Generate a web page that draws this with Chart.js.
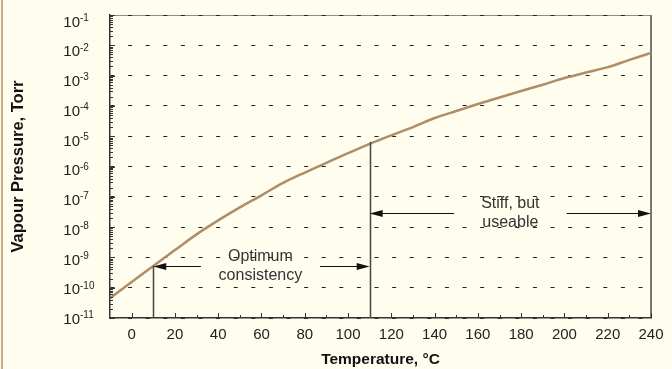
<!DOCTYPE html>
<html>
<head>
<meta charset="utf-8">
<script src="https://cdn.jsdelivr.net/npm/chart.js@4.4.1/dist/chart.umd.min.js"></script>
<style>
  html, body { margin: 0; padding: 0; background: #fffdee; }
  #wrap { width: 672px; height: 369px; }
</style>
</head>
<body>
<div id="wrap"><canvas id="vapourChart" width="672" height="369"></canvas></div>
<script>
// curve, every 10 degC
const temperatures = [-10, 0, 10, 20, 30, 40, 50, 60, 70, 80, 90, 100, 110, 120,
  130, 140, 150, 160, 170, 180, 190, 200, 210, 220, 230, 240];
const vapourPressure = [4.5e-11, 1.55e-10, 5.25e-10, 1.74e-9, 5.75e-9, 1.66e-8, 4.47e-8,
  1.12e-7, 2.88e-7, 6.3e-7, 1.32e-6, 2.75e-6, 5.6e-6, 1.07e-5, 2.0e-5, 3.98e-5, 6.8e-5,
  1.15e-4, 1.9e-4, 3.1e-4, 5.0e-4, 8.3e-4, 1.26e-3, 1.9e-3, 3.3e-3, 5.6e-3];

const tempTicks = [0, 20, 40, 60, 80, 100, 120, 140, 160, 180, 200, 220, 240];
const pressureExponents = [-1, -2, -3, -4, -5, -6, -7, -8, -9, -10, -11];

// range markers: vertical lines and the two labelled arrow pairs
const markerTemps = [10, 110];
const markerTops = [5.25e-10, 6.5e-6];
const rangeLabels = [['Optimum', 'consistency'], ['Stiff, but', 'useable']];
const rangeLabelTemps = [59.5, 175];
const rangeLevels = [5.25e-10, 2.95e-8];
const rangeArrows = [
  [[32, 10], [87, 110]],
  [[149, 110], [201, 240]]
];

const FONT = 'Liberation Sans, Arial, sans-serif';

const decor = {
  id: 'decor',
  beforeDraw(chart) {
    const { ctx, chartArea: a } = chart;
    ctx.save();
    ctx.fillStyle = '#fffdee';
    ctx.fillRect(0, 0, chart.width, chart.height);
    // tan stripe on the left edge
    ctx.fillStyle = '#c9ab84';
    ctx.fillRect(1, 0, 2, chart.height);
    // frame top and right
    ctx.strokeStyle = '#8c8c8c';
    ctx.lineWidth = 1;
    ctx.beginPath();
    ctx.moveTo(a.left, a.top + 0.5);
    ctx.lineTo(a.right, a.top + 0.5);
    ctx.stroke();
    ctx.strokeStyle = '#777';
    ctx.lineWidth = 2;
    ctx.beginPath();
    ctx.moveTo(a.right, a.top);
    ctx.lineTo(a.right, a.bottom);
    ctx.stroke();
    ctx.restore();
  },
  afterDraw(chart) {
    const { ctx, chartArea: a } = chart;
    const xs = chart.scales.x, ys = chart.scales.y;
    ctx.save();

    // inner tick marks
    ctx.strokeStyle = '#333';
    ctx.lineWidth = 1;
    ctx.beginPath();
    tempTicks.forEach((t, i) => {
      const px = Math.round(xs.getPixelForValue(t)) + 0.5;
      ctx.moveTo(px, a.bottom);
      ctx.lineTo(px, a.bottom - 5);
      if (i < tempTicks.length - 1) {
        const mx = Math.round(xs.getPixelForValue(t + 10)) + 0.5;
        ctx.moveTo(mx, a.bottom);
        ctx.lineTo(mx, a.bottom - 3);
      }
    });
    pressureExponents.forEach(e => {
      const py = Math.round(ys.getPixelForValue(Math.pow(10, e))) + 0.5;
      ctx.moveTo(a.left, py);
      ctx.lineTo(a.left + 5, py);
    });
    pressureExponents.slice(1).forEach(e => {
      for (let m = 2; m <= 9; m++) {
        const py = Math.round(ys.getPixelForValue(m * Math.pow(10, e))) + 0.5;
        ctx.moveTo(a.left, py);
        ctx.lineTo(a.left + 3, py);
      }
    });
    ctx.stroke();

    // y tick labels with superscript exponents
    ctx.fillStyle = '#222';
    pressureExponents.forEach((e, i) => {
      const py = ys.getPixelForValue(Math.pow(10, e)) + 7.5 - 0.55 * i;
      ctx.font = '15px ' + FONT;
      ctx.textAlign = 'right';
      ctx.textBaseline = 'middle';
      ctx.fillText('10', 80, py);
      ctx.font = '10px ' + FONT;
      ctx.textAlign = 'left';
      ctx.fillText(String(e), 80, py - 4.5);
    });

    // vertical markers
    ctx.strokeStyle = '#444';
    ctx.lineWidth = 1.5;
    markerTemps.forEach((t, i) => {
      const px = Math.round(xs.getPixelForValue(t)) + 0.5;
      ctx.beginPath();
      ctx.moveTo(px, a.bottom);
      ctx.lineTo(px, ys.getPixelForValue(markerTops[i]));
      ctx.stroke();
    });

    // arrows
    ctx.strokeStyle = '#111';
    ctx.fillStyle = '#111';
    ctx.lineWidth = 1.2;
    rangeArrows.forEach((pair, i) => {
      const py = Math.round(ys.getPixelForValue(rangeLevels[i])) + 0.5;
      pair.forEach(([from, to]) => {
        const x0 = xs.getPixelForValue(from), x1 = xs.getPixelForValue(to);
        const dir = Math.sign(x1 - x0);
        ctx.beginPath();
        ctx.moveTo(x0, py);
        ctx.lineTo(x1 - dir * 10, py);
        ctx.stroke();
        ctx.beginPath();
        ctx.moveTo(x1, py);
        ctx.lineTo(x1 - dir * 13, py - 3.5);
        ctx.lineTo(x1 - dir * 13, py + 3.5);
        ctx.closePath();
        ctx.fill();
      });
    });

    // range labels
    ctx.fillStyle = '#333';
    ctx.font = '16px ' + FONT;
    ctx.textAlign = 'center';
    ctx.textBaseline = 'middle';
    rangeLabels.forEach((lines, i) => {
      const px = xs.getPixelForValue(rangeLabelTemps[i]);
      const py = ys.getPixelForValue(rangeLevels[i]);
      ctx.fillText(lines[0], px, py - 9.5);
      ctx.fillText(lines[1], px, py + 9.5);
    });

    ctx.restore();
  }
};

const ctx = document.getElementById('vapourChart').getContext('2d');
const chart = new Chart(ctx, {
  type: 'line',
  data: {
    datasets: [{
      label: 'Vapour pressure',
      data: temperatures.map((t, i) => ({ x: t, y: vapourPressure[i] })),
      borderColor: '#ae8e68',
      borderWidth: 2.5,
      pointRadius: 0,
      cubicInterpolationMode: 'monotone',
      fill: false
    }]
  },
  options: {
    responsive: false,
    animation: false,
    devicePixelRatio: 1,
    layout: { padding: { top: 15, right: 21, left: 0, bottom: 0 } },
    plugins: { legend: { display: false }, tooltip: { enabled: false } },
    scales: {
      x: {
        type: 'linear',
        min: -10,
        max: 240,
        afterBuildTicks: s => { s.ticks = tempTicks.map(v => ({ value: v })); },
        afterFit: s => { s.height = 51; },
        grid: { display: false, drawTicks: false },
        border: { display: true, color: '#333', width: 1.5 },
        ticks: {
          color: '#222', font: { family: FONT, size: 15 }, padding: 8,
          maxRotation: 0, autoSkip: false
        },
        title: {
          display: true, text: 'Temperature, °C', color: '#111',
          font: { family: FONT, size: 15.5, weight: 'bold' },
          padding: { top: 0, bottom: 0 }
        }
      },
      y: {
        type: 'logarithmic',
        min: 1e-11,
        max: 1e-1,
        afterBuildTicks: s => { s.ticks = pressureExponents.map(e => ({ value: Math.pow(10, e) })); },
        afterFit: s => { s.width = 110; },
        grid: { color: '#222', lineWidth: 1, drawTicks: false },
        border: { display: true, color: '#333', width: 1.5, dash: [4, 13.6] },
        ticks: { display: false },
        title: {
          display: true, text: 'Vapour Pressure, Torr', color: '#111',
          font: { family: FONT, size: 16.5, weight: 'bold' },
          padding: { top: 9, bottom: 0 }
        }
      }
    }
  },
  plugins: [decor]
});
</script>
</body>
</html>
